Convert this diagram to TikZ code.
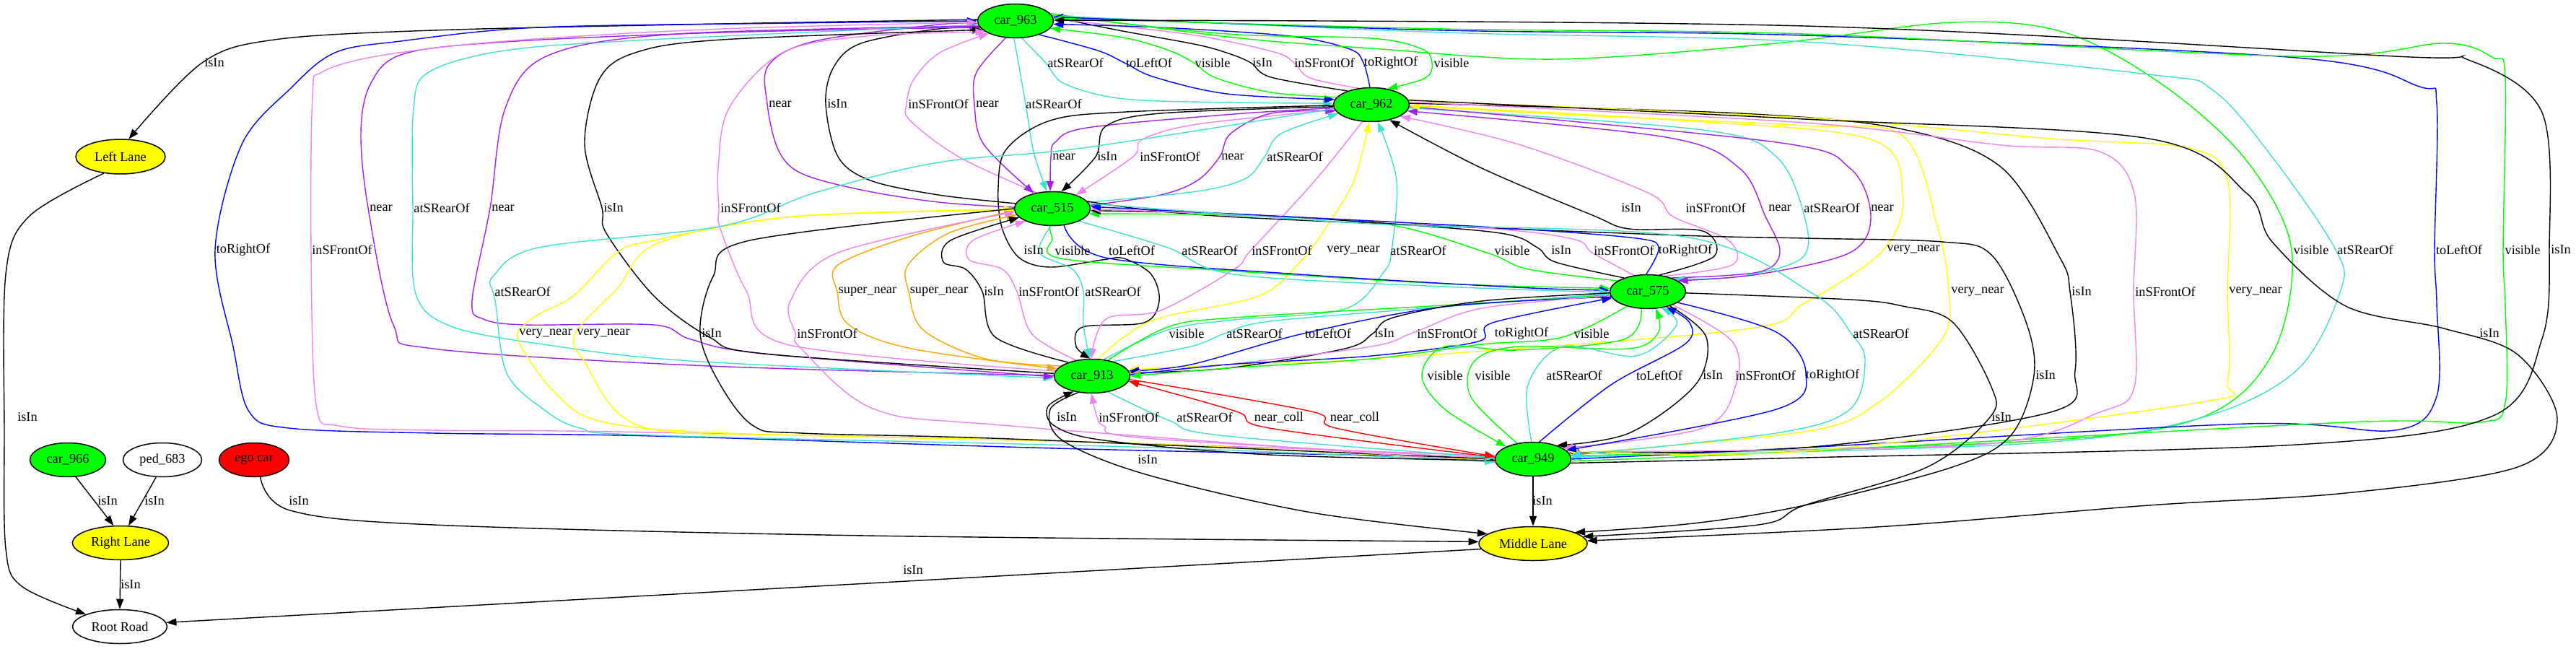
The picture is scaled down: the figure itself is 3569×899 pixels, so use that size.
\documentclass[tikz,border=0pt]{standalone}
\usepackage{fontspec}
\setmainfont{Liberation Serif}
\usetikzlibrary{shapes.geometric,arrows.meta}
\definecolor{cpur}{HTML}{A020F0}
\definecolor{cvio}{HTML}{EE82EE}
\definecolor{ctur}{HTML}{40E0D0}
\definecolor{cblu}{HTML}{0000FF}
\definecolor{cgrn}{HTML}{00FF00}
\definecolor{cyel}{HTML}{FFFF00}
\definecolor{cora}{HTML}{FFA500}
\definecolor{cred}{HTML}{FF0000}
\newcommand\gvf{\fontsize{18.3pt}{22pt}\selectfont}
\pgfdeclarelayer{bg}
\pgfsetlayers{bg,main}
\tikzset{
  nd/.style={ellipse,draw=black,line width=1.5pt,minimum width=105pt,minimum height=47pt,inner sep=0pt,font=\gvf},
  lab/.style={font=\gvf,inner sep=0pt,anchor=center},
  ed/.style={line width=1.4pt,-{Triangle[length=14pt,width=10pt]}},
}
\newcommand\edg[2]{\draw[ed,#1] plot[smooth,tension=0.55] coordinates {#2};}
\begin{document}
\begin{tikzpicture}[x=1pt,y=-1pt]
\useasboundingbox (0,0) rectangle (3569,899);
% nodes
\node[nd,fill=cgrn] (n963) at (1407,29) {car\_963};
\node[nd,fill=cgrn] (n962) at (1900,145) {car\_962};
\node[nd,fill=cgrn] (n515) at (1458,289) {car\_515};
\node[nd,fill=cgrn] (n575) at (2283,404) {car\_575};
\node[nd,fill=cgrn] (n913) at (1513,521) {car\_913};
\node[nd,fill=cgrn] (n949) at (2124,636) {car\_949};
\node[nd,fill=cyel,minimum width=124pt,minimum height=48pt] (nLL) at (167,217) {Left Lane};
\node[nd,fill=cgrn] (n966) at (94,637) {car\_966};
\node[nd,fill=white,minimum width=109pt] (n683) at (225,637) {ped\_683};
\node[nd,fill=cred,minimum width=97pt] (nego) at (352,637) {ego car};
\node[nd,fill=cyel,minimum width=133pt] (nRL) at (167,752) {Right Lane};
\node[nd,fill=cyel,minimum width=150pt] (nML) at (2124,753) {Middle Lane};
\node[nd,fill=white,minimum width=131pt] (nRR) at (166,868) {Root Road};
% labels
\node[lab] (L1) at (297,87) {isIn};
\node[lab] (L2) at (1490,87) {atSRearOf};
\node[lab] (L3) at (1592,87) {toLeftOf};
\node[lab] (L4) at (1680,87) {visible};
\node[lab] (L5) at (1749,87) {isIn};
\node[lab] (L6) at (1835,87) {inSFrontOf};
\node[lab] (L7) at (1927,87) {toRightOf};
\node[lab] (L8) at (2011,87) {visible};
\node[lab] (L9) at (1081,144) {near};
\node[lab] (L10) at (1160,144) {isIn};
\node[lab] (L11) at (1300,144) {inSFrontOf};
\node[lab] (L12) at (1368,144) {near};
\node[lab] (L13) at (1460,144) {atSRearOf};
\node[lab] (L14) at (1474,217) {near};
\node[lab] (L15) at (1534,217) {isIn};
\node[lab] (L16) at (1621,217) {inSFrontOf};
\node[lab] (L17) at (1708,217) {near};
\node[lab] (L18) at (1794,217) {atSRearOf};
\node[lab] (L19) at (1432,347) {isIn};
\node[lab] (L20) at (528,288) {near};
\node[lab] (L21) at (612,288) {atSRearOf};
\node[lab] (L22) at (697,288) {near};
\node[lab] (L23) at (850,288) {isIn};
\node[lab] (L24) at (1040,288) {inSFrontOf};
\node[lab] (L25) at (337,346) {toRightOf};
\node[lab] (L26) at (474,346) {inSFrontOf};
\node[lab] (L27) at (3202,346) {visible};
\node[lab] (L28) at (3277,346) {atSRearOf};
\node[lab] (L29) at (3407,346) {toLeftOf};
\node[lab] (L30) at (3495,346) {visible};
\node[lab] (L31) at (3548,346) {isIn};
\node[lab] (L32) at (2260,288) {isIn};
\node[lab] (L33) at (2377,288) {inSFrontOf};
\node[lab] (L34) at (2466,288) {near};
\node[lab] (L35) at (2538,288) {atSRearOf};
\node[lab] (L36) at (2608,288) {near};
\node[lab] (L37) at (1776,347) {inSFrontOf};
\node[lab] (L38) at (1875,347) {very\_near};
\node[lab] (L39) at (1965,347) {atSRearOf};
\node[lab] (L40) at (2651,346) {very\_near};
\node[lab] (L41) at (2740,404) {very\_near};
\node[lab] (L42) at (2884,404) {isIn};
\node[lab] (L43) at (3000,404) {inSFrontOf};
\node[lab] (L44) at (3125,404) {very\_near};
\node[lab] (L45) at (3449,462) {isIn};
\node[lab] (L46) at (2834,520) {isIn};
\node[lab] (L47) at (2773,578) {isIn};
\node[lab] (L48) at (1486,347) {visible};
\node[lab] (L49) at (1568,347) {toLeftOf};
\node[lab] (L50) at (1676,347) {atSRearOf};
\node[lab] (L51) at (2095,347) {visible};
\node[lab] (L52) at (2163,347) {isIn};
\node[lab] (L53) at (2250,347) {inSFrontOf};
\node[lab] (L54) at (2335,347) {toRightOf};
\node[lab] (L55) at (1202,404) {super\_near};
\node[lab] (L56) at (1301,404) {super\_near};
\node[lab] (L57) at (1377,404) {isIn};
\node[lab] (L58) at (1453,404) {inSFrontOf};
\node[lab] (L59) at (1542,404) {atSRearOf};
\node[lab] (L60) at (756,462) {very\_near};
\node[lab] (L61) at (836,462) {very\_near};
\node[lab] (L62) at (986,462) {isIn};
\node[lab] (L63) at (1146,462) {inSFrontOf};
\node[lab] (L64) at (724,404) {atSRearOf};
\node[lab] (L65) at (2606,462) {atSRearOf};
\node[lab] (L66) at (1644,462) {visible};
\node[lab] (L67) at (1738,462) {atSRearOf};
\node[lab] (L68) at (1840,462) {toLeftOf};
\node[lab] (L69) at (1918,462) {isIn};
\node[lab] (L70) at (2005,462) {inSFrontOf};
\node[lab] (L71) at (2108,462) {toRightOf};
\node[lab] (L72) at (2205,462) {visible};
\node[lab] (L73) at (2002,520) {visible};
\node[lab] (L74) at (2068,520) {visible};
\node[lab] (L75) at (2181,520) {atSRearOf};
\node[lab] (L76) at (2299,520) {toLeftOf};
\node[lab] (L77) at (2373,520) {isIn};
\node[lab] (L78) at (2446,520) {inSFrontOf};
\node[lab] (L79) at (2539,520) {toRightOf};
\node[lab] (L80) at (1478,578) {isIn};
\node[lab] (L81) at (1564,578) {inSFrontOf};
\node[lab] (L82) at (1669,578) {atSRearOf};
\node[lab] (L83) at (1772,578) {near\_coll};
\node[lab] (L84) at (1877,578) {near\_coll};
\node[lab] (L85) at (1590,637) {isIn};
\node[lab] (L86) at (2137,694) {isIn};
\node[lab] (L87) at (414,694) {isIn};
\node[lab] (L88) at (1265,790) {isIn};
\node[lab] (L89) at (38,578) {isIn};
\node[lab] (L90) at (149,694) {isIn};
\node[lab] (L91) at (214,694) {isIn};
\node[lab] (L92) at (181,810) {isIn};
\begin{pgfonlayer}{bg}
\edg{black}{(n963.178) (1000,33) (600,42) (380,55) (280,87) (nLL.65)}
\edg{ctur}{(n963.-70) (1449,87) (1475,116) (1557,137) (1710,142) (n962.178)}
\edg{cblu}{(n963.-30) (1521,70) (1558,87) (1600,107) (1700,130) (n962.172)}
\edg{cgrn}{(n962.168) (1761,128) (1685,108) (1654,87) (1620,70) (1557,52) (n963.-12)}
\edg{black}{(n962.150) (1761,107) (1733,87) (1705,75) (1659,62) (1550,42) (n963.6)}
\edg{cvio}{(n962.128) (1815,108) (1793,87) (1765,72) (1650,48) (n963.3)}
\edg{cblu}{(n962.95) (1889,87) (1870,68) (1787,50) (1608,38) (n963.-5)}
\edg{cgrn}{(n963.9) (1700,47) (1900,53) (1970,68) (1984,87) (1975,108) (n962.45)}
\edg{cpur}{(n515.178) (1300,280) (1193,263) (1110,240) (1078,207) (1063,144) (1065,90) (1129,57) (1300,34) (n963.184)}
\edg{black}{(n515.172) (1300,270) (1206,250) (1161,217) (1144,144) (1155,93) (1193,60) (1300,40) (n963.192)}
\edg{cvio}{(n515.135) (1328,217) (1261,167) (1256,144) (1266,110) (1302,73) (n963.205)}
\edg{cpur}{(n963.-120) (1353,100) (1350,144) (1363,200) (n515.140)}
\edg{ctur}{(n963.-95) (1421,144) (1432,210) (n515.108)}
\edg{cpur}{(n962.185) (1710,158) (1506,177) (1462,197) (1456,217) (n515.97)}
\edg{black}{(n962.183) (1608,157) (1532,175) (1518,217) (n515.62)}
\edg{cvio}{(n962.188) (1659,172) (1583,193) (1570,217) (n515.30)}
\edg{cpur}{(n515.5) (1608,270) (1659,250) (1690,217) (1705,185) (1761,157) (n962.190)}
\edg{ctur}{(n515.10) (1659,265) (1726,247) (1752,217) (1775,185) (n962.195)}
\edg{black}{(n962.181) (1560,155) (1455,167) (1394,207) (1383,260) (1388,315) (1412,357) (1455,370) (1527,360) (1557,358) (1595,380) (1606,417) (1585,447) (1500,453) (1491,480) (n913.95)}
\edg{cpur}{(n913.179) (983,507) (600,483) (545,450) (510,288) (500,183) (513,117) (558,75) (700,58) (1000,45) (n963.190)}
\edg{ctur}{(n963.186) (900,55) (700,70) (594,100) (573,150) (572,288) (576,407) (625,452) (753,477) (957,500) (n913.183)}
\edg{cpur}{(n963.188) (938,47) (759,77) (700,150) (679,288) (654,417) (670,442) (728,450) (906,450) (957,470) (1059,490) (n913.181)}
\edg{black}{(n913.176) (1059,490) (983,467) (906,410) (840,323) (834,288) (810,200) (830,110) (880,73) (1000,55) (n963.195)}
\edg{cvio}{(n913.172) (1090,477) (1034,403) (998,317) (996,288) (995,233) (1010,150) (1084,73) (1200,50) (n963.200)}
\edg{cblu}{(n949.178) (1500,622) (906,604) (600,600) (400,593) (345,570) (323,480) (298,346) (335,200) (402,123) (464,73) (555,57) (746,38) (1100,32) (n963.180)}
\edg{cvio}{(n949.175) (1500,612) (850,598) (600,596) (470,590) (438,560) (431,346) (433,133) (446,100) (527,77) (700,57) (1000,40) (n963.182)}
\edg{cgrn}{(n963.12) (1710,52) (1900,67) (2155,82) (2461,60) (2705,31) (2861,45) (3000,120) (3113,223) (3175,346) (3148,491) (3045,580) (2800,612) (n949.5)}
\edg{ctur}{(n963.8) (2000,45) (2500,58) (2977,103) (3066,125) (3150,220) (3236,346) (3243,402) (3182,513) (3045,580) (2800,615) (n949.3)}
\edg{cblu}{(n949.0) (2500,620) (3113,587) (3318,596) (3376,549) (3376,420) (3373,346) (3376,143) (3352,120) (3182,80) (2500,49) (2000,42) (n963.6)}
\edg{cgrn}{(n949.-3) (2500,625) (3250,585) (3434,585) (3471,558) (3471,420) (3468,346) (3471,107) (3454,80) (3386,60) (3182,78) (2500,47) (2000,40) (n963.4)}
\edg{black}{(n949.-6) (2500,634) (3182,616) (3454,576) (3522,469) (3532,346) (3522,156) (3420,83) (3318,78) (2500,36) (n963.1)}
\edg{black}{(n575.55) (2375,355) (2359,320) (2257,317) (2206,298) (2053,233) (n962.-40)}
\edg{cvio}{(n575.42) (2400,367) (2395,333) (2318,300) (2283,267) (2104,200) (n962.-22)}
\edg{cpur}{(n575.30) (2436,377) (2466,350) (2446,300) (2410,233) (2308,190) (n962.-10)}
\edg{ctur}{(n962.-5) (2359,180) (2461,217) (2500,300) (2497,357) (2410,383) (n575.25)}
\edg{cpur}{(n962.-3) (2461,197) (2563,233) (2592,300) (2563,350) (2436,380) (n575.20)}
\edg{cvio}{(n962.-118) (1822,250) (1733,347) (1710,373) (1608,430) (1532,442) (n913.92)}
\edg{cyel}{(n913.70) (1557,467) (1608,440) (1744,410) (1802,362) (1836,317) (1876,250) (n962.-98)}
\edg{ctur}{(n913.55) (1618,457) (1710,443) (1863,428) (1917,377) (1928,347) (1935,250) (n962.-70)}
\edg{cyel}{(n962.-1) (2300,165) (2589,192) (2636,268) (2610,346) (2500,420) (2410,457) (1900,497) (1700,505) (n913.10)}
\edg{cyel}{(n949.8) (2500,598) (2602,558) (2691,469) (2700,404) (2684,313) (2636,188) (2500,174) (2200,160) (n962.-2)}
\edg{black}{(n962.2) (2410,157) (2636,179) (2773,232) (2854,357) (2868,404) (2875,513) (2841,571) (2500,620) (n949.10)}
\edg{cvio}{(n962.4) (2500,170) (2773,201) (2909,210) (2957,268) (2956,404) (2957,536) (2909,571) (2739,616) (n949.12)}
\edg{cyel}{(n962.6) (2500,163) (2841,192) (3032,205) (3086,250) (3086,404) (3086,527) (3045,558) (2500,625) (n949.14)}
\edg{black}{(n962.7) (2500,165) (2977,192) (3113,268) (3148,335) (3250,424) (3386,455) (3488,491) (3543,580) (3488,647) (3250,683) (2977,700) (2600,730) (nML.3)}
\edg{black}{(n515.12) (1700,300) (2300,325) (2500,330) (2691,335) (2759,353) (2807,446) (2818,520) (2786,603) (2705,647) (2500,700) (2346,725) (nML.15)}
\edg{black}{(n575.-2) (2563,415) (2636,424) (2705,446) (2759,536) (2757,578) (2670,647) (2500,700) (2436,727) (nML.8)}
\edg{cgrn}{(n515.-100) (1458,330) (1470,358) (1700,375) (2000,393) (n575.175)}
\edg{cblu}{(n515.-55) (1532,357) (1800,380) (2100,398) (n575.178)}
\edg{ctur}{(n515.-25) (1618,343) (1710,380) (2000,397) (n575.181)}
\edg{cgrn}{(n575.160) (2118,373) (2060,350) (1917,310) (1700,298) (n515.-8)}
\edg{black}{(n575.150) (2155,363) (2130,343) (2079,323) (1900,308) (1700,296) (n515.-3)}
\edg{cvio}{(n575.130) (2206,350) (2186,333) (2104,320) (1900,306) (n515.0)}
\edg{cblu}{(n575.95) (2298,343) (2267,330) (2104,317) (1900,306) (n515.3)}
\edg{cora}{(n515.183) (1263,327) (1161,367) (1160,404) (1176,450) (1263,483) (n913.168)}
\edg{cora}{(n913.162) (1365,497) (1279,457) (1259,404) (1258,367) (1314,323) (n515.190)}
\edg{black}{(n913.150) (1379,467) (1361,404) (1338,373) (1307,363) (1317,333) (n515.195)}
\edg{cvio}{(n913.135) (1430,463) (1409,404) (1389,373) (1343,360) (1348,333) (n515.205)}
\edg{ctur}{(n515.-95) (1440,350) (1486,373) (1501,404) (1501,450) (n913.97)}
\edg{cyel}{(n515.182) (1100,300) (906,333) (855,350) (794,410) (743,437) (717,462) (728,490) (768,543) (830,583) (1008,600) (1600,615) (n949.183)}
\edg{cyel}{(n949.181) (1500,612) (1110,603) (886,590) (809,500) (797,462) (855,400) (911,337) (1100,300) (n515.181)}
\edg{black}{(n515.180) (1039,333) (988,383) (970,462) (998,533) (1044,590) (1110,600) (1400,608) (n949.180)}
\edg{cvio}{(n949.185) (1400,590) (1212,567) (1110,483) (1102,462) (1095,417) (1161,350) (n515.185)}
\edg{ctur}{(n962.186) (1500,205) (1300,225) (1129,267) (1001,313) (746,343) (683,383) (683,404) (687,423) (702,517) (753,567) (804,593) (906,603) (1600,620) (n949.184)}
\edg{ctur}{(n515.8) (1900,310) (2334,328) (2512,407) (2565,462) (2584,500) (2563,567) (2461,600) (n949.6)}
\edg{cgrn}{(n913.45) (1618,453) (1710,440) (2000,423) (n575.185)}
\edg{ctur}{(n913.35) (1650,480) (1697,462) (1760,445) (2000,425) (n575.183)}
\edg{cblu}{(n575.188) (2000,425) (1806,462) (1650,505) (n913.8)}
\edg{black}{(n575.182) (2053,417) (1930,440) (1902,462) (1863,483) (1700,510) (n913.5)}
\edg{cvio}{(n575.186) (2053,427) (1960,460) (1900,480) (1700,505) (n913.3)}
\edg{cblu}{(n913.2) (1700,505) (1900,493) (2048,473) (2068,447) (n575.190)}
\edg{cgrn}{(n575.215) (2165,467) (2053,477) (1900,497) (1700,510) (n913.0)}
\edg{cgrn}{(n575.-110) (2250,470) (2100,485) (2002,480) (1970,520) (2002,567) (n949.155)}
\edg{cgrn}{(n949.135) (2038,550) (2043,500) (2104,480) (2257,483) (2298,460) (n575.-65)}
\edg{ctur}{(n949.95) (2117,533) (2165,480) (2267,493) (2323,450) (n575.-50)}
\edg{cblu}{(n949.70) (2232,533) (2334,477) (2341,447) (n575.-40)}
\edg{black}{(n575.-33) (2364,467) (2349,533) (2257,600) (n949.30)}
\edg{cvio}{(n575.-28) (2400,473) (2405,533) (2359,593) (n949.20)}
\edg{cblu}{(n575.-20) (2461,460) (2502,517) (2461,567) (n949.15)}
\edg{black}{(n949.182) (1759,630) (1530,610) (1461,590) (1452,563) (n913.-140)}
\edg{cvio}{(n949.179) (1587,607) (1530,590) (1520,578) (n913.-92)}
\edg{ctur}{(n913.-45) (1621,583) (1690,603) (n949.178)}
\edg{cred}{(n949.177) (1759,593) (1713,570) (n913.-8)}
\edg{cred}{(n913.-5) (1817,570) (1851,593) (n949.176)}
\edg{black}{(n913.-130) (1455,567) (1472,610) (1587,657) (1817,710) (nML.168)}
\draw[ed,black] (n949.-90) -- (nML.90);
\edg{black}{(nego.-70) (402,707) (600,727) (1200,742) (nML.178)}
\draw[ed,black] (nML.186) -- (nRR.5);
\edg{black}{(nLL.-135) (40,300) (8,380) (6,600) (8,760) (30,812) (nRR.160)}
\draw[ed,black] (n966.-65) -- (nRL.112);
\draw[ed,black] (n683.-110) -- (nRL.65);
\draw[ed,black] (nRL.-90) -- (nRR.90);
\end{pgfonlayer}
\end{tikzpicture}
\end{document}
